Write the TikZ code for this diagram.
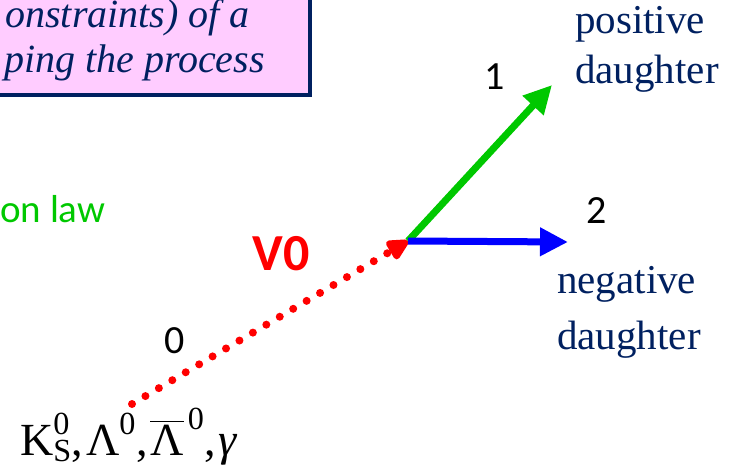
\documentclass[tikz,border=0pt]{standalone}
\usepackage{amsmath}
\usepackage{fontspec}
\setmainfont{Liberation Serif}
\newfontfamily\calibri{Carlito}
\usepackage{tikz}
\usetikzlibrary{arrows.meta}
\definecolor{boxpink}{RGB}{255,204,255}
\definecolor{navy}{RGB}{0,32,96}
\definecolor{lawgreen}{RGB}{0,200,0}
\tikzset{
	txt/.style={inner sep=0pt, text=navy, align=left},
	num/.style={inner sep=0pt, font=\calibri\fontsize{40}{48}\selectfont},
	trk/.style={line width=7pt, -{Triangle[length=28pt,width=27pt]}},
}

\begin{document}
\begin{tikzpicture}[x=1pt,y=-1pt]
				\clip (0,0) rectangle (737,469);
				\draw[navy, line width=4pt, fill=boxpink] (-20,-20) rectangle (310,95);
				\node[inner sep=0pt, anchor=base east, text=navy, font=\itshape\fontsize{40}{48}\selectfont] (cons) at (250,27) {onstraints) of a};
				\node[inner sep=0pt, anchor=base east, text=navy, font=\itshape\fontsize{40}{48}\selectfont] (proc) at (265,72) {ping the process};
				\node[inner sep=0pt, anchor=base west, text=lawgreen, font=\calibri\fontsize{39}{46}\selectfont] (law) at (0,222) {on law};
				\coordinate (vtx) at (408,241);
				\coordinate (pos) at (552,85);
				\coordinate (neg) at (568,242);
				\coordinate (mom) at (132,404);
				\draw[red, line width=8pt, line cap=round, dash pattern=on 0pt off 15.6pt, -{Triangle[length=25pt,width=23pt,round=false]}] (mom) -- (vtx);
				\draw[trk, lawgreen] (vtx) -- (pos);
				\draw[trk, blue] (vtx) -- (neg);
				\node[inner sep=0pt, anchor=base, text=red, font=\calibri\bfseries\fontsize{52}{60}\selectfont] (vzero) at (281,270) {V0};
				\node[num, anchor=base] (n0) at (175,353) {0};
				\node[num, anchor=base] (n1) at (495,89) {1};
				\node[num, anchor=base] (n2) at (597,223) {2};
				\node[txt, anchor=base west, font=\fontsize{41}{50}\selectfont] (ptxt) at (575,83) {positive\\daughter};
				\node[txt, anchor=base west, font=\fontsize{41}{56}\selectfont] (ntxt) at (557,349) {negative\\daughter};
				\node[inner sep=0pt, anchor=base west, font=\fontsize{46}{52}\selectfont] (parts) at (20,455) {$\text{K}^{\text{0}}_{\text{S}}\text{,}\mkern2mu\text{Λ}^{\text{0}}\text{,}\mkern2mu\overline{\text{Λ}}^{\,\text{0}}\text{,}\mkern2mu\textit{γ}$};
			\end{tikzpicture}
\end{document}
